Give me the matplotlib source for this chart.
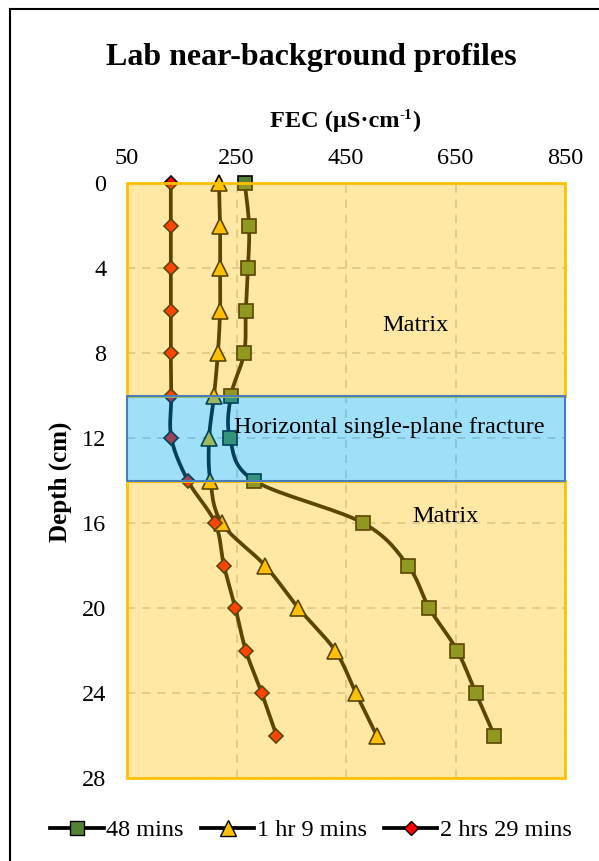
import numpy as np
import matplotlib
matplotlib.use("Agg")
import matplotlib.pyplot as plt
from matplotlib.patches import Rectangle
from matplotlib.lines import Line2D

plt.rcParams['font.family'] = ['Liberation Serif', 'DejaVu Serif']

depth = [0, 2, 4, 6, 8, 10, 12, 14, 16, 18, 20, 22, 24, 26]
fec_48min = [265, 273, 271, 267, 264, 240, 238, 282, 481, 563, 602, 653, 687, 721]
fec_1h9 = [218, 220, 220, 220, 216, 209, 200, 202, 223, 302, 363, 430, 468, 506]
fec_2h29 = [130, 130, 130, 130, 130, 131, 131, 161, 211, 227, 248, 267, 296, 323]
series_names = ["48 mins", "1 hr 9 mins", "2 hrs 29 mins"]
x_ticks = [50, 250, 450, 650, 850]
y_ticks = [0, 4, 8, 12, 16, 20, 24, 28]
fracture_top, fracture_bottom = 10, 14

FS = 17.5

fig = plt.figure(figsize=(5.99, 8.61), dpi=100)
ax = fig.add_axes([127/599, 1-778/861, (565-127)/599, (778-183)/861])
ax.set_xlim(50, 850)
ax.set_ylim(28, 0)

def smooth(xs, ys, n=20):
    # Bezier smoothing through the data points, in scaled (pixel-like) space
    sx = 438/800.0
    sy = 595/28.0
    P = np.column_stack([np.array(xs)*sx, np.array(ys)*sy])
    out = [P[0]]
    for i in range(len(P)-1):
        p0 = P[i-1] if i > 0 else P[i]
        p1 = P[i]
        p2 = P[i+1]
        p3 = P[i+2] if i+2 < len(P) else P[i+1]
        c1 = p1 + (p2 - p0)/6.0
        c2 = p2 - (p3 - p1)/6.0
        t = np.linspace(0, 1, n)[1:, None]
        B = ((1-t)**3)*p1 + 3*((1-t)**2)*t*c1 + 3*(1-t)*t**2*c2 + t**3*p2
        out.extend(B)
    out = np.array(out)
    return out[:, 0]/sx, out[:, 1]/sy

styles = [
    (fec_48min, 's', '#548235', 10),
    (fec_1h9, '^', '#FFC000', 11),
    (fec_2h29, 'D', '#FF0000', 7.5),
]
for vals, mk, fc, ms in styles:
    xs, ys = smooth(vals, depth)
    ax.plot(xs, ys, color='black', lw=2.7, zorder=3, clip_on=False, solid_capstyle='round')
    ax.plot(vals, depth, linestyle='none', marker=mk, markersize=ms, markerfacecolor=fc,
            markeredgecolor='black', markeredgewidth=1.2, zorder=4, clip_on=False)

# grid
ax.set_xticks(x_ticks)
ax.set_yticks(y_ticks)
ax.grid(True, color='#CCCCCC', linestyle=(0, (5, 4)), linewidth=1.2, zorder=0)
ax.set_axisbelow(True)
for s in ax.spines.values():
    s.set_visible(False)
ax.xaxis.tick_top()
ax.tick_params(axis='both', length=0, labelsize=FS)
ax.tick_params(axis='x', pad=10)
ax.tick_params(axis='y', pad=15)

# overlays
for (y0, y1) in [(0, fracture_top), (fracture_bottom, 28)]:
    ax.add_patch(Rectangle((50, y0), 800, y1-y0, facecolor='#FFC000', alpha=0.36,
                           edgecolor='none', zorder=5))
    ax.add_patch(Rectangle((50, y0), 800, y1-y0, facecolor='none',
                           edgecolor='#FFC000', lw=2, zorder=5.5, clip_on=False))
ax.add_patch(Rectangle((50, fracture_top), 800, fracture_bottom-fracture_top,
                       facecolor='#00B0F0', alpha=0.38, edgecolor='none', zorder=6))
ax.add_patch(Rectangle((50, fracture_top), 800, fracture_bottom-fracture_top,
                       facecolor='none', edgecolor='#4A7EBB', lw=1.5, zorder=6.5, clip_on=False))

ax.text(576, 6.7, "Matrix", fontsize=FS, ha='center', va='center', zorder=7)
ax.text(631, 15.7, "Matrix", fontsize=FS, ha='center', va='center', zorder=7)
ax.text(530, 11.5, "Horizontal single-plane fracture", fontsize=FS, ha='center', va='center', zorder=7)

fig.text(311/599, 1-58/861, "Lab near-background profiles", fontsize=23, fontweight='bold',
         ha='center', va='center')

# x-axis title with small superscript, built from pieces
renderer = fig.canvas.get_renderer()
ybase = 1-127/861
t1 = fig.text(0, ybase, "FEC (µS·cm", fontsize=17.5, fontweight='bold', ha='left', va='baseline')
t2 = fig.text(0, ybase + 8/861, "-1", fontsize=11, fontweight='bold', ha='left', va='baseline')
t3 = fig.text(0, ybase, ")", fontsize=17.5, fontweight='bold', ha='left', va='baseline')
w1 = t1.get_window_extent(renderer).width
w2 = t2.get_window_extent(renderer).width
w3 = t3.get_window_extent(renderer).width
total = w1 + w2 + w3
x0 = 345 - total/2
t1.set_x(x0/599)
t2.set_x((x0 + w1)/599)
t3.set_x((x0 + w1 + w2)/599)

fig.text(60/599, 1-482/861, "Depth (cm)", fontsize=18, fontweight='bold', rotation=90,
         ha='center', va='center')

handles = [
    Line2D([], [], color='black', lw=2.7, marker='s', markersize=10, markerfacecolor='#548235', markeredgecolor='black'),
    Line2D([], [], color='black', lw=2.7, marker='^', markersize=11, markerfacecolor='#FFC000', markeredgecolor='black'),
    Line2D([], [], color='black', lw=2.7, marker='D', markersize=7.5, markerfacecolor='#FF0000', markeredgecolor='black'),
]
fig.legend(handles, series_names, loc='center', bbox_to_anchor=(311/599, 1-830/861), ncol=3,
           frameon=False, fontsize=FS, handlelength=2.2, handletextpad=0.1, columnspacing=0.7)

# figure border (left and top)
fig.add_artist(Line2D([10/599, 10/599], [0, 1-9/861], color='black', lw=1.5, transform=fig.transFigure))
fig.add_artist(Line2D([10/599, 1], [1-9/861, 1-9/861], color='black', lw=1.5, transform=fig.transFigure))

fig.savefig("out.png", dpi=100, facecolor='white')
